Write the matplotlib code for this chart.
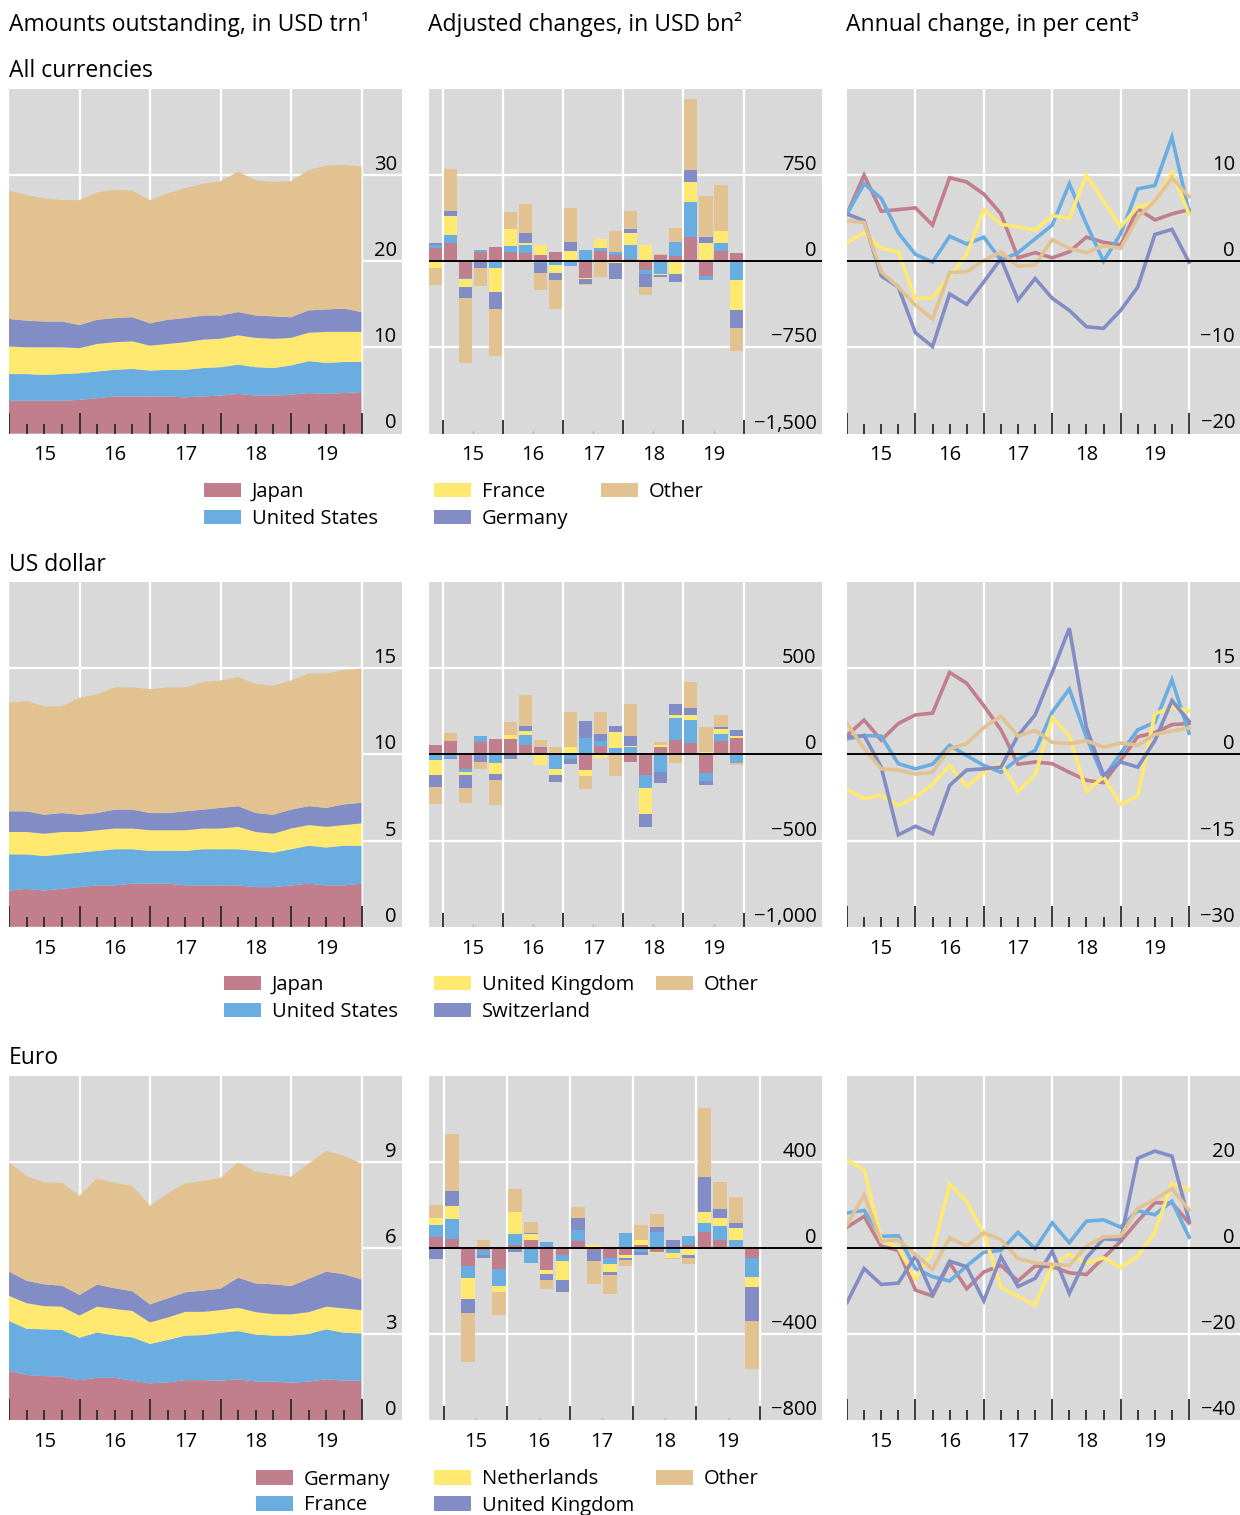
import numpy as np
import matplotlib
matplotlib.use("Agg")
import matplotlib.pyplot as plt
import matplotlib.transforms as mtransforms
from matplotlib.patches import Rectangle

plt.rcParams['font.family'] = ['Open Sans', 'DejaVu Sans']

# ---------------- DATA ----------------
quarters = ['2014Q4',
            '2015Q1', '2015Q2', '2015Q3', '2015Q4',
            '2016Q1', '2016Q2', '2016Q3', '2016Q4',
            '2017Q1', '2017Q2', '2017Q3', '2017Q4',
            '2018Q1', '2018Q2', '2018Q3', '2018Q4',
            '2019Q1', '2019Q2', '2019Q3', '2019Q4']
year_labels = ['15', '16', '17', '18', '19']

names_all = ['Japan', 'United States', 'France', 'Germany', 'Other']
names_usd = ['Japan', 'United States', 'United Kingdom', 'Switzerland', 'Other']
names_eur = ['Germany', 'France', 'Netherlands', 'United Kingdom', 'Other']

# Amounts outstanding, USD trn (stacked)
amt_all_jp = [3.8,3.8,3.8,3.8,3.9,4.1,4.3,4.3,4.3,4.3,4.2,4.3,4.4,4.6,4.4,4.4,4.5,4.7,4.6,4.7,4.8]
amt_all_us = [3.1,3.1,3.0,3.1,3.1,3.1,3.1,3.2,3.0,3.1,3.2,3.3,3.3,3.4,3.3,3.2,3.4,3.7,3.6,3.6,3.5]
amt_all_fr = [3.2,3.1,3.2,3.1,2.9,3.2,3.2,3.2,2.9,3.0,3.2,3.3,3.3,3.4,3.4,3.4,3.2,3.3,3.6,3.5,3.5]
amt_all_de = [3.2,3.1,3.0,3.0,2.7,2.8,2.8,2.8,2.6,2.8,2.8,2.8,2.7,2.7,2.6,2.6,2.4,2.6,2.6,2.7,2.3]
amt_all_ot = [14.9,14.6,14.3,14.1,14.5,14.8,14.9,14.7,14.3,14.7,15.1,15.3,15.6,16.3,15.7,15.6,15.8,16.3,16.7,16.7,16.9]

amt_usd_jp = [2.1,2.2,2.1,2.2,2.3,2.4,2.4,2.5,2.5,2.5,2.4,2.4,2.4,2.4,2.3,2.3,2.4,2.5,2.4,2.4,2.5]
amt_usd_us = [2.1,2.0,2.0,2.0,2.0,2.0,2.1,2.0,1.9,1.9,2.0,2.1,2.1,2.1,2.1,2.0,2.1,2.2,2.2,2.3,2.2]
amt_usd_uk = [1.3,1.3,1.3,1.3,1.2,1.2,1.2,1.2,1.2,1.2,1.2,1.2,1.2,1.3,1.1,1.1,1.2,1.2,1.2,1.2,1.3]
amt_usd_ch = [1.2,1.2,1.1,1.1,1.0,1.0,1.1,1.1,1.0,1.0,1.1,1.1,1.2,1.2,1.1,1.1,1.1,1.1,1.1,1.2,1.2]
amt_usd_ot = [6.3,6.4,6.3,6.2,6.8,6.9,7.1,7.1,7.2,7.3,7.2,7.4,7.4,7.5,7.5,7.5,7.5,7.7,7.8,7.8,7.8]

amt_eur_de = [1.71,1.57,1.53,1.51,1.39,1.47,1.47,1.37,1.28,1.31,1.39,1.39,1.37,1.42,1.34,1.34,1.30,1.34,1.42,1.37,1.37]
amt_eur_fr = [1.74,1.61,1.63,1.63,1.48,1.58,1.48,1.51,1.37,1.48,1.55,1.57,1.67,1.68,1.64,1.60,1.64,1.66,1.74,1.67,1.65]
amt_eur_nl = [0.88,0.89,0.81,0.81,0.77,0.90,0.92,0.92,0.75,0.78,0.83,0.81,0.79,0.81,0.78,0.75,0.74,0.76,0.79,0.85,0.81]
amt_eur_uk = [0.84,0.78,0.76,0.73,0.72,0.77,0.72,0.69,0.63,0.67,0.68,0.74,0.75,1.05,1.00,1.04,0.99,1.16,1.22,1.19,1.07]
amt_eur_ot = [3.80,3.65,3.55,3.59,3.46,3.70,3.68,3.66,3.44,3.66,3.80,3.82,3.86,4.02,3.89,3.84,3.81,4.02,4.21,4.13,4.04]

# Adjusted changes, USD bn (stacked bars)
chg_all_jp = [119,162,-142,78,127,84,70,58,84,0,-142,87,58,23,-72,58,49,214,-125,93,75]
chg_all_us = [26,70,-12,17,-55,52,75,-15,-29,-38,101,32,26,122,-35,-107,122,304,-35,70,-159]
chg_all_fr = [-55,165,-67,0,-209,148,12,87,-70,93,-9,78,-12,104,145,-12,-107,174,162,104,-269]
chg_all_de = [17,43,-96,-58,-156,0,93,-90,-61,78,-43,0,-139,35,-113,-14,-78,104,52,0,-156]
chg_all_ot = [-148,365,-571,-156,-408,148,252,-148,-252,295,-9,-133,182,156,-70,9,122,617,356,400,-200]

chg_usd_jp = [54,77,-85,71,88,88,54,40,0,0,-90,48,0,-44,-119,42,83,65,-108,77,94]
chg_usd_us = [-33,-19,-17,35,-50,0,58,0,-85,-27,94,29,37,42,-75,-102,127,138,-46,40,-50]
chg_usd_uk = [-87,0,-17,0,-63,23,23,-62,-35,42,-35,-19,92,6,-150,12,17,29,13,29,12]
chg_usd_ch = [-69,-8,-75,-44,-35,-27,29,4,-40,-29,98,40,35,58,-75,-63,69,40,-23,12,35]
chg_usd_ot = [-98,46,-87,-40,-144,75,179,38,42,202,-75,127,-125,185,0,17,-50,150,144,69,-12]

chg_eur_de = [52,43,-86,-12,-100,15,38,-105,-31,34,-11,-49,-35,15,-17,0,11,75,38,0,-49]
chg_eur_fr = [52,92,-55,-23,-78,51,-72,29,-28,51,0,-28,71,-17,75,-22,42,42,65,38,-88]
chg_eur_nl = [37,60,-97,0,-28,102,28,-18,-92,0,12,-37,-14,23,-9,-23,-31,51,37,55,-46]
chg_eur_uk = [-54,69,-65,-14,0,-17,5,-28,-52,55,-52,-14,-9,-14,23,38,-14,161,42,23,-157]
chg_eur_ot = [58,263,-226,38,-106,106,51,-42,-3,51,-106,-88,-28,69,60,-9,-28,323,125,120,-222]

# Annual change, per cent (lines)
pct_all_jp = [5.5,10.0,5.8,6.0,6.2,4.2,9.7,9.2,7.8,5.5,0.4,1.0,0.4,1.1,2.8,2.2,1.9,6.1,4.8,5.5,6.0]
pct_all_us = [5.5,9.0,7.3,3.3,0.8,-0.1,2.9,2.0,2.8,0.1,1.0,2.6,4.2,9.0,4.3,0.0,3.2,8.4,8.8,14.4,5.7]
pct_all_fr = [2.2,3.3,1.5,1.1,-4.4,-4.2,-1.8,0.8,6.0,4.3,4.0,3.6,5.3,5.0,10.0,7.0,4.0,6.3,6.8,10.3,5.5]
pct_all_de = [5.5,4.7,-1.7,-3.0,-8.3,-9.9,-3.8,-5.0,-2.4,0.3,-4.5,-2.0,-4.3,-5.7,-7.6,-7.8,-5.7,-3.0,3.1,3.7,-0.1]
pct_all_ot = [4.7,4.5,-1.2,-3.0,-5.1,-6.7,-1.3,-1.2,0.1,1.1,-0.6,-0.4,2.5,1.5,1.0,1.8,1.5,5.1,7.0,9.7,7.5]

pct_usd_jp = [3.3,6.0,2.5,5.4,6.9,7.2,14.3,12.4,8.5,4.3,-1.7,-1.3,-1.6,-3.1,-4.5,-4.9,-1.0,3.1,3.8,5.2,5.4]
pct_usd_us = [2.7,3.3,3.2,-1.6,-2.5,-1.7,1.6,-0.2,-1.9,-3.1,-0.8,0.7,7.4,11.4,3.0,-4.1,0.2,4.3,5.6,13.0,3.7]
pct_usd_uk = [-6.1,-7.7,-7.1,-8.9,-7.4,-5.2,-1.9,-5.6,-3.1,-1.6,-6.4,-3.5,6.4,3.3,-6.4,-3.9,-8.7,-7.2,7.1,8.2,7.6]
pct_usd_ch = [3.0,3.3,-2.2,-14.0,-12.5,-13.8,-5.4,-2.7,-2.5,-2.2,3.3,6.9,14.3,22.0,4.7,-3.6,-1.3,-2.2,2.4,9.4,5.8]
pct_usd_ot = [5.4,1.0,-2.5,-2.7,-3.4,-3.1,1.0,1.9,4.7,6.7,3.2,4.2,2.1,1.9,2.4,1.3,2.0,1.6,3.5,4.1,4.6]

pct_eur_de = [4.8,7.3,0.4,-0.6,-9.8,-11.2,-3.5,-9.5,-5.6,-4.1,-7.7,-4.2,-4.4,-5.8,-6.2,-2.3,1.5,6.2,10.5,10.4,5.8]
pct_eur_fr = [8.1,8.7,2.7,2.8,-4.8,-6.7,-7.7,-4.2,-1.0,-0.6,3.6,-0.2,5.8,1.2,6.2,6.5,4.8,8.6,7.7,10.8,2.5]
pct_eur_nl = [20.4,18.2,1.9,0.0,-7.3,-1.0,14.8,10.8,3.5,-9.2,-11.3,-13.3,-4.2,-1.5,-3.6,-2.3,-4.6,-1.9,3.6,15.0,13.5]
pct_eur_uk = [-12.7,-4.8,-8.5,-8.2,-1.9,-10.8,-3.1,-4.4,-12.3,-2.1,-9.0,-7.1,-0.8,-10.6,-2.3,2.1,1.9,20.8,22.5,21.3,6.4]
pct_eur_ot = [5.4,12.3,1.5,1.9,-1.5,-5.0,2.3,0.4,3.5,1.9,-2.5,-3.5,-3.8,-4.1,0.4,2.5,2.7,9.2,11.2,13.8,8.8]

amt_ticks = [[0, 10, 20, 30], [0, 5, 10, 15], [0, 3, 6, 9]]
chg_ticks = [[-1500, -750, 0, 750], [-1000, -500, 0, 500], [-800, -400, 0, 400]]
pct_ticks = [[-20, -10, 0, 10], [-30, -15, 0, 15], [-40, -20, 0, 20]]

# ---------------- STYLE / LAYOUT ----------------
COLORS = ['#C17E8D', '#6AADE1', '#FFE970', '#838DC5', '#E2C291']
BG = '#D9D9D9'
TICKC = '#2b2b2b'
FS = 14.5
TFS = 16.5
W, H = 1240, 1515

fig = plt.figure(figsize=(W / 100, H / 100), dpi=100)


def qpos(q, end=True):
    y = int(q[:4]); k = int(q[-1])
    return y + k / 4.0 if end else y + (k - 0.5) / 4.0


x_end = np.array([qpos(q, True) for q in quarters])     # quarter-end positions
x_mid = np.array([qpos(q, False) for q in quarters])    # quarter-centre positions

rows_px = [(89, 433.5), (582.3, 926.7), (1075.7, 1420)]
cols_px = [(9, 401.7), (429, 821.7), (847, 1240)]


def add_ax(c, r):
    x0, x1 = cols_px[c]
    y0, y1 = rows_px[r]
    ax = fig.add_axes([x0 / W, 1 - y1 / H, (x1 - x0) / W, (y1 - y0) / H])
    ax.set_facecolor(BG)
    for s in ax.spines.values():
        s.set_visible(False)
    ax.set_xticks([]); ax.set_yticks([])
    return ax


def decorate(ax, yticks, major_len, minor_len, vgrid, ylim, small_marks=False):
    ax.set_ylim(*ylim)
    for v in yticks:
        if v == ylim[0]:
            pass
        elif v == 0 and ylim[0] < 0:
            ax.axhline(0, color='black', lw=1.4, zorder=4)
        else:
            ax.axhline(v, color='white', lw=1.6, zorder=0.5)
    for xv in vgrid:
        ax.axvline(xv, color='white', lw=1.6, zorder=0.5)
    # y tick labels inside right edge
    tr = mtransforms.offset_copy(ax.get_yaxis_transform(), fig=fig, x=-5, y=5, units='dots')
    for v in yticks:
        s = f"{abs(v):,.0f}"
        if v < 0:
            s = '\u2212' + s
        ax.text(1.0, v, s, transform=tr, ha='right', va='baseline', fontsize=FS, color='black', zorder=6)
    # tick marks
    hpx = ax.get_position().height * H
    xt = ax.get_xaxis_transform()
    years = np.arange(2015, 2021)
    ax.vlines(years, 0, major_len / hpx, transform=xt, colors=TICKC, lw=1.3, zorder=5)
    if minor_len:
        mins = [y + k / 4 for y in range(2015, 2020) for k in (1, 2, 3)]
        ax.vlines(mins, 0, minor_len / hpx, transform=xt, colors=TICKC, lw=1.3, zorder=5)
    if small_marks:
        ax.vlines(np.arange(2014.5, 2020, 1.0), 0, 2.5 / hpx, transform=xt, colors='#b0b0b0', lw=1.0, zorder=5)
    # year labels
    trx = mtransforms.offset_copy(xt, fig=fig, x=0, y=-27, units='dots')
    for yl, xm in zip(year_labels, np.arange(2015.5, 2020, 1.0)):
        ax.text(xm, 0, yl, transform=trx, ha='center', va='baseline', fontsize=FS, clip_on=False)


def stacked_bars(ax, x, series, width):
    pos = np.zeros(len(x)); neg = np.zeros(len(x))
    for vals, c in zip(series, COLORS):
        v = np.asarray(vals, float)
        p = np.where(v > 0, v, 0.0); n = np.where(v < 0, v, 0.0)
        ax.bar(x, p, width, bottom=pos, color=c, lw=0, zorder=2)
        ax.bar(x, n, width, bottom=neg, color=c, lw=0, zorder=2)
        pos += p; neg += n


amts = [[amt_all_jp, amt_all_us, amt_all_fr, amt_all_de, amt_all_ot],
        [amt_usd_jp, amt_usd_us, amt_usd_uk, amt_usd_ch, amt_usd_ot],
        [amt_eur_de, amt_eur_fr, amt_eur_nl, amt_eur_uk, amt_eur_ot]]
chgs = [[chg_all_jp, chg_all_us, chg_all_fr, chg_all_de, chg_all_ot],
        [chg_usd_jp, chg_usd_us, chg_usd_uk, chg_usd_ch, chg_usd_ot],
        [chg_eur_de, chg_eur_fr, chg_eur_nl, chg_eur_uk, chg_eur_ot]]
pcts = [[pct_all_jp, pct_all_us, pct_all_fr, pct_all_de, pct_all_ot],
        [pct_usd_jp, pct_usd_us, pct_usd_uk, pct_usd_ch, pct_usd_ot],
        [pct_eur_de, pct_eur_fr, pct_eur_nl, pct_eur_uk, pct_eur_ot]]
names = [names_all, names_usd, names_eur]

amt_ylim = [(0, 40), (0, 20), (0, 12)]
chg_ylim = [(-1500, 1500), (-1000, 1000), (-800, 800)]
pct_ylim = [(-20, 20), (-30, 30), (-40, 40)]
chg_xlim = [(2014.767, 2021.3), (2014.767, 2021.3), (2014.762, 2020.984)]

for r in range(3):
    # Column 1: stacked area
    ax = add_ax(0, r)
    ax.set_xlim(2015, 2020.57)
    ax.stackplot(x_end, *amts[r], colors=COLORS, lw=0, zorder=2)
    decorate(ax, amt_ticks[r], 21, 10, [2016, 2017, 2018, 2019, 2020], amt_ylim[r])

    # Column 2: stacked bars
    ax = add_ax(1, r)
    ax.set_xlim(*chg_xlim[r])
    stacked_bars(ax, x_mid, chgs[r], 0.217)
    decorate(ax, chg_ticks[r], 14, 0, [2015, 2016, 2017, 2018, 2019, 2020], chg_ylim[r], small_marks=True)

    # Column 3: lines
    ax = add_ax(2, r)
    ax.set_xlim(2015, 2020.745)
    for vals, c in zip(pcts[r], COLORS):
        ax.plot(x_end, vals, color=c, lw=2.6, zorder=3, solid_joinstyle='miter')
    decorate(ax, pct_ticks[r], 21, 10, [2016, 2017, 2018, 2019, 2020], pct_ylim[r])

# Titles
fig.text(9 / W, 1 - 31 / H, 'Amounts outstanding, in USD trn\u00b9', fontsize=TFS, va='baseline', ha='left')
fig.text(428 / W, 1 - 31 / H, 'Adjusted changes, in USD bn\u00b2', fontsize=TFS, va='baseline', ha='left')
fig.text(846 / W, 1 - 31 / H, 'Annual change, in per cent\u00b3', fontsize=TFS, va='baseline', ha='left')
for t, yb in zip(['All currencies', 'US dollar', 'Euro'], [77, 571, 1064]):
    fig.text(9 / W, 1 - yb / H, t, fontsize=TFS, va='baseline', ha='left')

# Legends (patch left x, patch top y, series index)
legend_rows = [
    [(204, 483, 0), (204, 509.5, 1), (434, 483, 2), (434, 509.5, 3), (601, 483, 4)],
    [(224, 976, 0), (224, 1002.5, 1), (434, 976, 2), (434, 1002.5, 3), (656, 976, 4)],
    [(256, 1470, 0), (256, 1496, 1), (434, 1470, 2), (434, 1496, 3), (656, 1470, 4)],
]
PW, PH = 37, 14.5
for r, items in enumerate(legend_rows):
    for (px, py, k) in items:
        fig.add_artist(Rectangle((px / W, 1 - (py + PH) / H), PW / W, PH / H,
                                 transform=fig.transFigure, facecolor=COLORS[k], edgecolor='none'))
        fig.text((px + 48) / W, 1 - (py + PH) / H, names[r][k], fontsize=FS, va='baseline', ha='left')

fig.savefig('out.png', dpi=100, facecolor='white')
